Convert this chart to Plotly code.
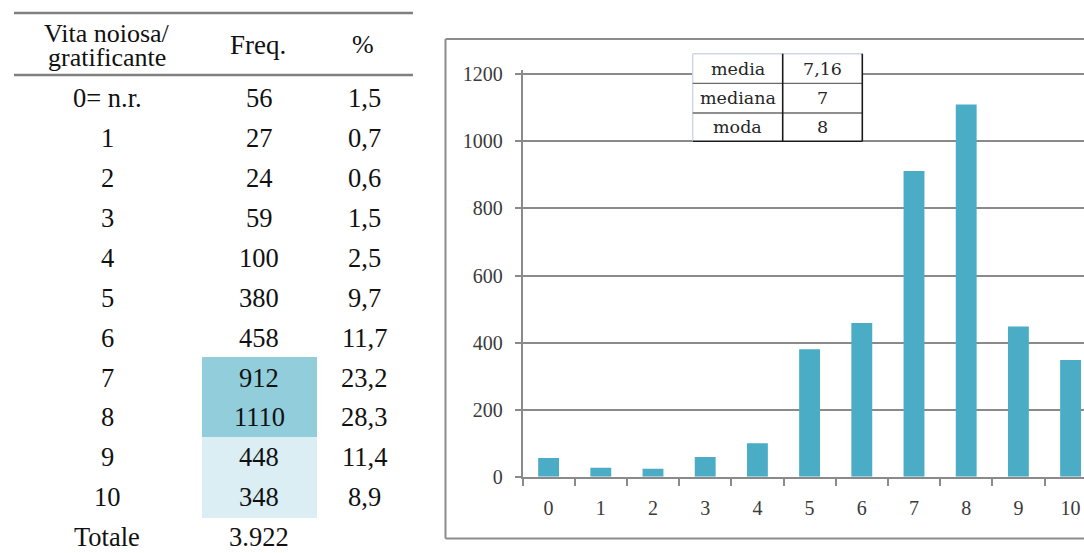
import plotly.graph_objects as go

W, H = 1084, 553

# ---- data ----
score_labels = ["0= n.r.", "1", "2", "3", "4", "5", "6", "7", "8", "9", "10"]
categories = ["0", "1", "2", "3", "4", "5", "6", "7", "8", "9", "10"]
freq = [56, 27, 24, 59, 100, 380, 458, 912, 1110, 448, 348]
pct = ["1,5", "0,7", "0,6", "1,5", "2,5", "9,7", "11,7", "23,2", "28,3", "11,4", "8,9"]
total_label = "Totale"
total_freq = "3.922"
header_lines = ["Vita noiosa/", "gratificante"]
header = ["Freq.", "%"]
stat_names = ["media", "mediana", "moda"]
stat_values = ["7,16", "7", "8"]
y_ticks = [0, 200, 400, 600, 800, 1000, 1200]


def px(x):
    return x / W


def py(y):
    return 1 - y / H


# plot geometry (pixels)
X_AXIS_LEFT = 522.5
CAT_STEP = 52.2
Y_ZERO = 476.7
Y_1200 = 74.3
PLOT_TOP = 70
units_per_px = 1200 / (Y_ZERO - Y_1200)
y_top = (Y_ZERO - PLOT_TOP) * units_per_px
x_right = -0.5 + (W - X_AXIS_LEFT) / CAT_STEP

SERIF = "Liberation Serif, Times New Roman, serif"
GRID = "#8a8a8a"
TICKFONT = dict(family=SERIF, size=20, color="#3a3a3a")

fig = go.Figure()
fig.add_trace(go.Bar(
    x=categories, y=freq, width=0.4,
    marker=dict(color="#4BACC6", line=dict(width=0)),
    hoverinfo="x+y",
))

shapes = []
annotations = []

# ---- frame around the chart ----
FRAME = dict(color="#8c8c8c", width=2)
shapes += [
    dict(type="line", xref="paper", yref="paper", layer="below",
         x0=px(445.5), x1=px(445.5), y0=py(39), y1=py(538.5), line=FRAME),
    dict(type="line", xref="paper", yref="paper", layer="below",
         x0=px(445.5), x1=1.02, y0=py(39), y1=py(39), line=FRAME),
    dict(type="line", xref="paper", yref="paper", layer="below",
         x0=px(445.5), x1=1.02, y0=py(538.5), y1=py(538.5), line=FRAME),
]

# ---- left frequency table ----
RULE = dict(color="#808080", width=2.5)
shapes += [
    dict(type="line", xref="paper", yref="paper", x0=px(14), x1=px(413),
         y0=py(13), y1=py(13), line=RULE),
    dict(type="line", xref="paper", yref="paper", x0=px(14), x1=px(413),
         y0=py(75), y1=py(75), line=RULE),
    dict(type="rect", xref="paper", yref="paper", layer="below",
         x0=px(202), x1=px(317), y0=py(357), y1=py(437),
         fillcolor="#92CDDC", line=dict(width=0)),
    dict(type="rect", xref="paper", yref="paper", layer="below",
         x0=px(202), x1=px(317), y0=py(437), y1=py(518),
         fillcolor="#DAEEF3", line=dict(width=0)),
]

TFONT = dict(family=SERIF, size=26.5, color="#111111")
COL_X = [107, 259, 364]
ROW0 = 98.3
ROW_STEP = 39.9


def table_text(x, y, text, size=26.5):
    annotations.append(dict(
        xref="paper", yref="paper", x=px(x), y=py(y), text=text,
        showarrow=False, xanchor="center", yanchor="middle",
        font=dict(TFONT, size=size),
    ))


table_text(COL_X[0], 33, header_lines[0], 26)
table_text(COL_X[0], 57, header_lines[1], 26)
table_text(258, 45, header[0], 27)
table_text(363, 45, header[1], 26)

for i, (lab, f, p) in enumerate(zip(score_labels, freq, pct)):
    yc = ROW0 + ROW_STEP * i
    table_text(COL_X[0], yc, lab)
    table_text(COL_X[1], yc, str(f))
    table_text(COL_X[2], yc, p)

yc = ROW0 + ROW_STEP * len(score_labels)
table_text(COL_X[0], yc, total_label)
table_text(COL_X[1], yc, total_freq)

# ---- inset summary table ----
IL, IM, IR = 692.7, 782.7, 862.3
IT, IB = 53.7, 141.3
row_lines = [83.3, 113.0]
shapes.append(dict(type="rect", xref="paper", yref="paper", layer="above",
                   x0=px(IL), x1=px(IR), y0=py(IT), y1=py(IB),
                   fillcolor="white", line=dict(width=0)))
LIGHT = dict(color="#cfd8e6", width=1.5)
DARK = dict(color="#1a1a1a", width=1.6)
MID = dict(color="#6a6a6a", width=1.3)
shapes += [
    dict(type="line", xref="paper", yref="paper", layer="above",
         x0=px(IL), x1=px(IR), y0=py(IT), y1=py(IT), line=LIGHT),
    dict(type="line", xref="paper", yref="paper", layer="above",
         x0=px(IL), x1=px(IL), y0=py(IT), y1=py(IB), line=LIGHT),
]
for ry in row_lines:
    shapes.append(dict(type="line", xref="paper", yref="paper", layer="above",
                       x0=px(IL), x1=px(IR), y0=py(ry), y1=py(ry), line=MID))
shapes += [
    dict(type="line", xref="paper", yref="paper", layer="above",
         x0=px(IM), x1=px(IM), y0=py(IT), y1=py(IB), line=DARK),
    dict(type="line", xref="paper", yref="paper", layer="above",
         x0=px(IR), x1=px(IR), y0=py(IT), y1=py(IB), line=DARK),
    dict(type="line", xref="paper", yref="paper", layer="above",
         x0=px(IL), x1=px(IR), y0=py(IB), y1=py(IB), line=DARK),
]
row_edges = [IT] + row_lines + [IB]
IFONT = dict(family="DejaVu Serif, serif", size=17.5, color="#262626")
for k, (nm, val) in enumerate(zip(stat_names, stat_values)):
    yc = (row_edges[k] + row_edges[k + 1]) / 2
    annotations.append(dict(xref="paper", yref="paper", x=px((IL + IM) / 2),
                            y=py(yc), text=nm, showarrow=False,
                            xanchor="center", yanchor="middle", font=IFONT))
    annotations.append(dict(xref="paper", yref="paper", x=px((IM + IR) / 2),
                            y=py(yc), text=val, showarrow=False,
                            xanchor="center", yanchor="middle", font=IFONT))

fig.update_layout(
    width=W, height=H,
    margin=dict(l=0, r=0, t=0, b=0, autoexpand=False),
    paper_bgcolor="white", plot_bgcolor="white",
    showlegend=False,
    bargap=0.6,
    shapes=shapes,
    annotations=annotations,
    xaxis=dict(
        type="category",
        domain=[px(X_AXIS_LEFT), 1],
        range=[-0.5, x_right],
        automargin=False,
        showline=True, linecolor=GRID, linewidth=1.6,
        ticks="outside", tickson="boundaries", ticklen=7,
        tickcolor=GRID, tickwidth=1.5,
        tickfont=TICKFONT, ticklabelstandoff=12,
        showgrid=False, zeroline=False,
    ),
    yaxis=dict(
        domain=[py(Y_ZERO), py(PLOT_TOP)],
        range=[0, y_top],
        automargin=False,
        tickmode="array", tickvals=y_ticks,
        showline=True, linecolor=GRID, linewidth=1.6,
        ticks="outside", ticklen=6, tickcolor=GRID, tickwidth=1.5,
        tickfont=TICKFONT, ticklabelstandoff=8,
        showgrid=True, gridcolor=GRID, gridwidth=1.6,
        zeroline=False,
    ),
)

fig.write_html("out.html")
